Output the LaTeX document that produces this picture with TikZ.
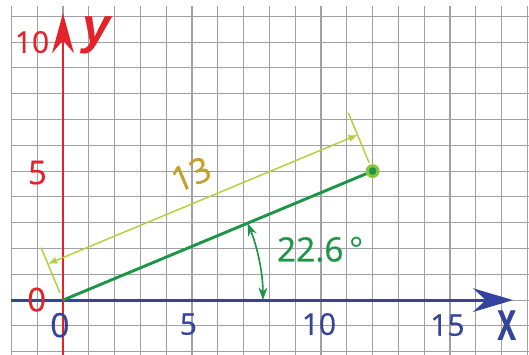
\documentclass[tikz,border=0pt]{standalone}
\usepackage{fontspec}
\setmainfont{Open Sans}
\newfontfamily\labf{Open Sans}[FakeBold=0.5]
\newfontfamily\lib{Liberation Sans}
\usetikzlibrary{arrows.meta}
\definecolor{axred}{HTML}{E42229}
\definecolor{axblue}{HTML}{33449A}
\definecolor{segreen}{HTML}{1C9547}
\definecolor{dimlime}{HTML}{B4CF3A}
\definecolor{dotlime}{HTML}{8CC63F}
\definecolor{gold}{HTML}{C5A02A}
\definecolor{gridgray}{HTML}{A0A0A8}
\tikzset{
  gridline/.style={draw=gridgray, line width=0.6pt},
  redlab/.style={text=axred, inner sep=0pt, font=\labf\fontsize{18}{18}\selectfont},
  bluelab/.style={text=axblue, inner sep=0pt, font=\labf\fontsize{16.5}{16.5}\selectfont},
  dimline/.style={draw=dimlime, line width=0.8pt},
  dimarrow/.style={dimline, {Latex[length=5pt,width=4pt]}-{Latex[length=5pt,width=4pt]}},
  anglearrow/.style={draw=segreen, line width=0.9pt, {Stealth[length=7pt,width=5pt]}-{Stealth[length=7pt,width=5pt]}},
}
\begin{document}
\begin{tikzpicture}[x=0.5cm,y=0.5cm]
\useasboundingbox (-2.44,-2.09) rectangle (18.06,11.63);
\fill[white] (-2.44,-2.09) rectangle (18.06,11.63);
% grid
\foreach \i in {-2,...,18} \draw[gridline] (\i,-2.2) -- (\i,11.4);
\foreach \j in {-2,...,11} \draw[gridline] (-2,\j) -- (18.2,\j);
% coordinates
\coordinate (O) at (0,0);
\coordinate (P) at (12,5);
\coordinate (ybot) at (0,-2.2);
\coordinate (ytop) at (0,11.12);
\coordinate (xleft) at (-2,0);
\coordinate (xright) at (17.44,0);
\coordinate (A1) at (-0.585,1.403);
\coordinate (A2) at (11.415,6.403);
\coordinate (E1a) at (-0.115,0.277);
\coordinate (E1b) at (-0.846,2.031);
\coordinate (E2a) at (11.865,5.323);
\coordinate (E2b) at (11.058,7.262);
\coordinate (arcA) at (7.75,0);
% axes
\draw[axblue, line width=1.6pt, -{Stealth[length=22pt,width=13pt,inset=7pt]}] (xleft) -- (xright);
\draw[axred, line width=1.6pt, -{Stealth[length=22pt,width=12pt,inset=7pt]}] (ybot) -- (ytop);
% segment
\draw[segreen, line width=1.6pt] (O) -- (P);
\fill[dotlime] (P) circle (0.27);
\fill[segreen] (P) circle (0.15);
% dimension
\draw[dimline] (E1a) -- (E1b);
\draw[dimline] (E2a) -- (E2b);
\draw[dimarrow] (A1) -- (A2);
% angle arc
\draw[anglearrow] (arcA) arc[start angle=0, end angle=22.62, radius=7.75];
% labels
\node[redlab, font=\labf\fontsize{16.5}{16.5}\selectfont] (l10) at (-1.2,10.0) {10};
\node[redlab] (l5) at (-0.99,4.94) {5};
\node[redlab] (l0r) at (-1.02,0.02) {0};
\node[text=axred, inner sep=0pt, font=\lib\bfseries\itshape\fontsize{28}{28}\selectfont] (ly) at (1.30,10.25) {y};
\node[bluelab, font=\labf\fontsize{18.5}{18.5}\selectfont] (l0b) at (-0.12,-0.97) {0};
\node[bluelab] (l5b) at (4.86,-0.93) {5};
\node[bluelab] (l10b) at (9.92,-0.93) {10};
\node[bluelab] (l15b) at (14.9,-0.97) {15};
\node[text=axblue, inner sep=0pt, font=\lib\bfseries\fontsize{31}{31}\selectfont] (lx) at (17.2,-0.97) {\scalebox{0.62}[1]{x}};
\node[text=segreen, inner sep=0pt, font=\labf\fontsize{18.5}{18.5}\selectfont, anchor=west] (ang) at (8.28,1.96) {22.6\,{\setmainfont{Open Sans}\selectfont °}};
\node[text=gold, inner sep=0pt, rotate=22.62, font=\labf\fontsize{19}{19}\selectfont] (l13) at (4.96,4.88) {13};
\end{tikzpicture}
\end{document}
